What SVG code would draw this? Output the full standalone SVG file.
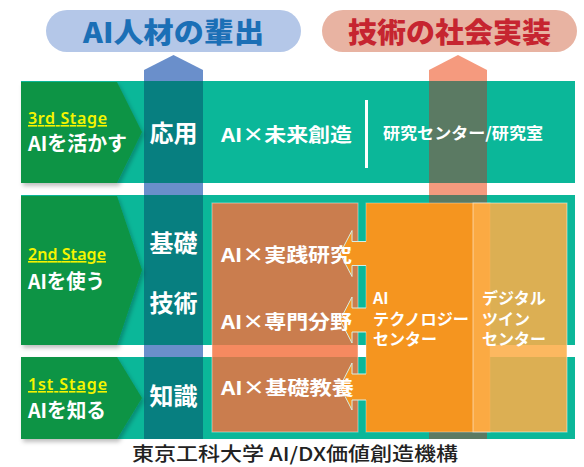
<svg xmlns="http://www.w3.org/2000/svg" width="584" height="467" viewBox="0 0 584 467">
<style>
.jp{font-family:"Noto Sans CJK JP","Noto Sans",sans-serif;font-weight:700;fill:#fff}
.stg{font-family:"Noto Sans","Noto Sans CJK JP",sans-serif;font-weight:600;fill:#f5f500;text-decoration:underline;font-size:16px}
.lbl{font-size:20px}
.col{font-size:24px;text-anchor:middle}
.mid{font-size:19px}
.sm{font-size:16px}
.teal{fill:#0bb799}
.green{fill:#0d9444;filter:url(#sh)}
.bw{fill:#6a8fcb}
.bt{fill:#077f80}
.sw{fill:#f59a7e}
.st{fill:#5b7a63}
.arr{fill:#f5951f}
.arrline{fill:none;stroke:#d6efe6;stroke-width:1}
</style>
<defs>
<filter id="sh" x="-10%" y="-10%" width="130%" height="130%">
<feDropShadow dx="2" dy="3" stdDeviation="2" flood-color="#000" flood-opacity="0.25"/>
</filter>
</defs>
<rect width="584" height="467" fill="#fff"/>

<g id="pill-jinzai">
<rect x="46" y="10" width="255" height="42" rx="21" fill="#b4c7e8"/>
<text x="173.5" y="43" text-anchor="middle" textLength="181" lengthAdjust="spacingAndGlyphs" font-family="Noto Sans CJK JP, sans-serif" font-weight="900" font-size="28" fill="#1b6fb6">AI人材の輩出</text>
</g>
<g id="pill-shakai">
<rect x="322" y="10" width="255" height="42" rx="21" fill="#e8b3a2"/>
<text x="449.5" y="43" text-anchor="middle" textLength="203" lengthAdjust="spacingAndGlyphs" font-family="Noto Sans CJK JP, sans-serif" font-weight="900" font-size="28" fill="#c62530">技術の社会実装</text>
</g>

<g id="rows">
<rect class="teal" x="21" y="81" width="554" height="102"/>
<rect class="teal" x="21" y="195" width="554" height="150"/>
<rect class="teal" x="21" y="357" width="554" height="82"/>
</g>

<g id="column-blue">
<polygon class="bw" points="144,70 173.5,55 203,70 203,81 144,81"/>
<rect class="bt" x="144" y="81" width="59" height="102"/>
<rect class="bw" x="144" y="183" width="59" height="12"/>
<rect class="bt" x="144" y="195" width="59" height="150"/>
<rect class="bw" x="144" y="345" width="59" height="12"/>
<rect class="bt" x="144" y="357" width="59" height="82"/>
</g>
<g id="column-salmon">
<polygon class="sw" points="429,70 458,55 487,70 487,81 429,81"/>
<rect class="st" x="429" y="81" width="58" height="102"/>
<rect class="sw" x="429" y="183" width="58" height="12"/>
<rect class="st" x="429" y="195" width="58" height="244"/>
</g>

<g id="stage3">
<polygon class="green" points="21,82 117,82 142,132 117,183 21,183"/>
<text class="stg" x="28" y="124" textLength="79">3rd Stage</text>
<text class="jp lbl" x="28" y="151" textLength="99" lengthAdjust="spacingAndGlyphs">AIを活かす</text>
</g>
<g id="stage2">
<polygon class="green" points="21,196 117,196 142,270 117,345 21,345"/>
<text class="stg" x="28" y="260" textLength="78">2nd Stage</text>
<text class="jp lbl" x="28" y="289" textLength="77" lengthAdjust="spacingAndGlyphs">AIを使う</text>
</g>
<g id="stage1">
<polygon class="green" points="21,357 117,357 142,398 117,439 21,439"/>
<text class="stg" x="28" y="390" textLength="79">1st Stage</text>
<text class="jp lbl" x="28" y="418" textLength="78" lengthAdjust="spacingAndGlyphs">AIを知る</text>
</g>

<g id="col-labels">
<text class="jp col" x="173.5" y="142">応用</text>
<text class="jp col" x="173.5" y="252">基礎</text>
<text class="jp col" x="173.5" y="312">技術</text>
<text class="jp col" x="173.5" y="405">知識</text>
</g>

<g id="row1-content">
<text class="jp mid" x="221" y="142" textLength="131" lengthAdjust="spacingAndGlyphs">AI×未来創造</text>
<rect x="365" y="100" width="3" height="68" fill="#fff"/>
<text class="jp sm" x="383" y="139" textLength="160" lengthAdjust="spacingAndGlyphs">研究センター/研究室</text>
</g>

<g id="box-education">
<rect x="212" y="203" width="146" height="229" fill="#f4703d" fill-opacity="0.82" stroke="#fff" stroke-opacity="0.45"/>
</g>
<g id="box-aitech">
<rect x="366" y="203" width="124" height="229" fill="#f5951f" stroke="#fff" stroke-opacity="0.35"/>
</g>
<g id="box-digitaltwin">
<rect x="473" y="203" width="94" height="229" fill="#fbae48" fill-opacity="0.87" stroke="#fff" stroke-opacity="0.5"/>
</g>

<g id="connectors">
<path class="arr" d="M367,241.5 H352 V230.5 L340,253.5 L352,276.5 V265.5 H367 Z"/>
<path class="arrline" d="M366,241.5 H352 V230.5 L340,253.5 L352,276.5 V265.5 H366"/>
<path class="arr" d="M367,308 H352 V297 L340,320 L352,343 V332 H367 Z"/>
<path class="arrline" d="M366,308 H352 V297 L340,320 L352,343 V332 H366"/>
<path class="arr" d="M367,374 H352 V363 L340,386.5 L352,410 V400 H367 Z"/>
<path class="arrline" d="M366,374 H352 V363 L340,386.5 L352,410 V400 H366"/>
</g>

<g id="education-labels">
<text class="jp mid" x="221" y="262" textLength="131" lengthAdjust="spacingAndGlyphs">AI×実践研究</text>
<text class="jp mid" x="221" y="329" textLength="131" lengthAdjust="spacingAndGlyphs">AI×専門分野</text>
<text class="jp mid" x="221" y="395" textLength="133" lengthAdjust="spacingAndGlyphs">AI×基礎教養</text>
</g>
<g id="aitech-labels">
<text class="jp sm" x="373" y="304">AI</text>
<text class="jp sm" x="373" y="325" textLength="96" lengthAdjust="spacingAndGlyphs">テクノロジー</text>
<text class="jp sm" x="373" y="345">センター</text>
</g>
<g id="digitaltwin-labels">
<text class="jp sm" x="482" y="304">デジタル</text>
<text class="jp sm" x="482" y="325">ツイン</text>
<text class="jp sm" x="482" y="345">センター</text>
</g>

<text x="295" y="461" text-anchor="middle" textLength="326" lengthAdjust="spacingAndGlyphs" font-family="Noto Sans CJK JP, sans-serif" font-weight="500" font-size="19" fill="#222">東京工科大学 AI/DX価値創造機構</text>
</svg>
